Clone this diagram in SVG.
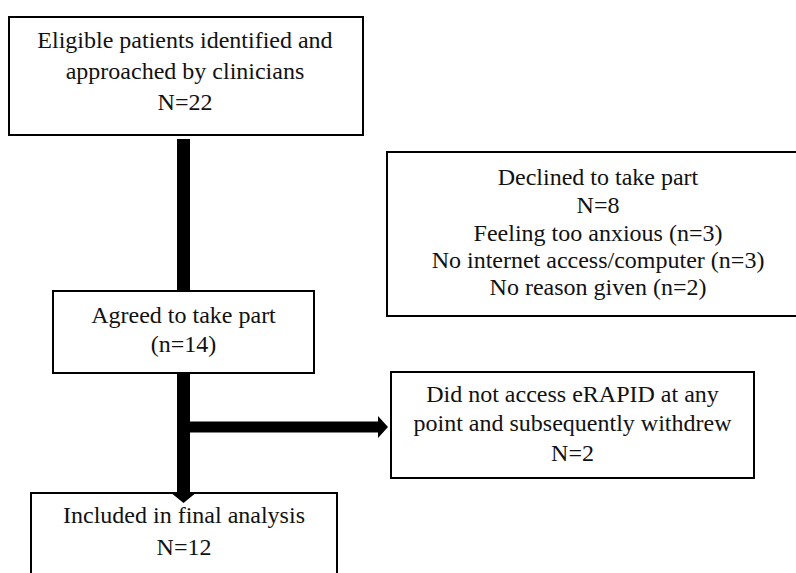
<svg xmlns="http://www.w3.org/2000/svg" width="796" height="573" viewBox="0 0 796 573">
<style>
.box{fill:#fff;stroke:#000;stroke-width:2}
text{font-family:'Liberation Serif','Times New Roman','DejaVu Serif',serif;font-size:24px;fill:#111;text-anchor:middle}
.conn{fill:#000;stroke:none}
</style>
<rect width="796" height="573" fill="#fff"/>
<g id="eligible">
<rect class="box" x="9" y="17" width="354" height="118"/>
<text font-family="Liberation Serif, serif" x="185" y="48">Eligible patients identified and</text>
<text font-family="Liberation Serif, serif" x="185" y="79">approached by clinicians</text>
<text font-family="Liberation Serif, serif" x="185" y="110">N=22</text>
</g>
<g id="declined">
<rect class="box" x="387" y="152" width="430" height="164"/>
<text font-family="Liberation Serif, serif" x="598" y="185">Declined to take part</text>
<text font-family="Liberation Serif, serif" x="598" y="213">N=8</text>
<text font-family="Liberation Serif, serif" x="598" y="241">Feeling too anxious (n=3)</text>
<text font-family="Liberation Serif, serif" x="598" y="268">No internet access/computer (n=3)</text>
<text font-family="Liberation Serif, serif" x="598" y="295">No reason given (n=2)</text>
</g>
<g id="agreed">
<rect class="box" x="53" y="291" width="261" height="82"/>
<text font-family="Liberation Serif, serif" x="183.5" y="323">Agreed to take part</text>
<text font-family="Liberation Serif, serif" x="183.5" y="352">(n=14)</text>
</g>
<g id="withdrew">
<rect class="box" x="391" y="372" width="363" height="106"/>
<text font-family="Liberation Serif, serif" x="572.5" y="402">Did not access eRAPID at any</text>
<text font-family="Liberation Serif, serif" x="572.5" y="431">point and subsequently withdrew</text>
<text font-family="Liberation Serif, serif" x="572.5" y="461">N=2</text>
</g>
<g id="included">
<rect class="box" x="31" y="493" width="306" height="100"/>
<text font-family="Liberation Serif, serif" x="184" y="523">Included in final analysis</text>
<text font-family="Liberation Serif, serif" x="184" y="555">N=12</text>
</g>
<g id="connectors">
<rect class="conn" x="177" y="139" width="13" height="152"/>
<polygon class="conn" points="177,374 190,374 190,421.5 378,421.5 378,416 388,427 378,438 378,432.5 190,432.5 190,492 197,492 183.5,503 170,492 177,492"/>
</g>
</svg>
